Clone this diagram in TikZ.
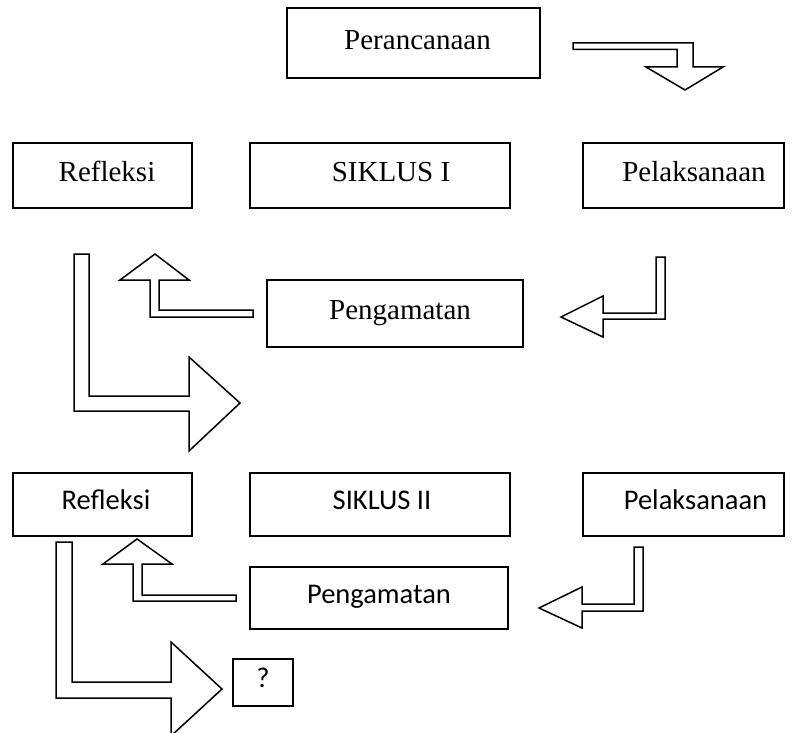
\documentclass[tikz,border=0pt]{standalone}
\usepackage{fontspec}
\setmainfont{Liberation Serif}
\newfontfamily\calfont{Carlito}
\begin{document}
\begin{tikzpicture}[x=1pt,y=-1pt,
  box/.style={draw=black,line width=1.5pt,inner sep=0pt,align=center},
  serifbox/.style={box,font=\fontsize{29}{32}\selectfont,text height=20.3pt,text depth=7.8pt},
  sansbox/.style={box,font=\calfont\fontsize{28.5}{32}\selectfont,text height=20pt,text depth=9.1pt},
  blockarrow/.style={draw=black,line width=1.5pt,line join=miter,fill=white}]
\useasboundingbox (0,0) rectangle (793,733);
% cycle I
\node[serifbox,minimum width=253pt,minimum height=70pt] (per) at (413.5,43) {\hspace*{8pt}Perancanaan};
\node[serifbox,minimum width=179pt,minimum height=65pt] (ref1) at (102.5,175.5) {\hspace*{9pt}Refleksi};
\node[serifbox,minimum width=260pt,minimum height=65pt] (sik1) at (380,175.5) {\hspace*{22pt}SIKLUS I};
\node[serifbox,minimum width=201pt,minimum height=65pt] (pel1) at (683.5,175.5) {\hspace*{21pt}Pelaksanaan};
\node[serifbox,minimum width=256pt,minimum height=67pt] (pen1) at (395,313.5) {\hspace*{10pt}Pengamatan};
% cycle II
\node[sansbox,minimum width=179pt,minimum height=63pt] (ref2) at (102.5,504.5) {\hspace*{7pt}Refleksi};
\node[sansbox,minimum width=260pt,minimum height=63pt] (sik2) at (380,504.5) {\hspace*{4pt}SIKLUS II};
\node[sansbox,minimum width=201pt,minimum height=63pt] (pel2) at (683.5,504.5) {\hspace*{24pt}Pelaksanaan};
\node[sansbox,minimum width=258pt,minimum height=62pt] (pen2) at (379,598) {Pengamatan};
\node[sansbox,minimum width=60pt,minimum height=47pt] (q) at (263,682.5) {?};
% block arrows, cycle I
\draw[blockarrow] (573,43) -- (693,43) -- (693,67) -- (723,67) -- (685,90) -- (646,67) -- (677,67) -- (677,49.5) -- (573,49.5) -- cycle;
\draw[blockarrow] (665,257) -- (665,319) -- (603,319) -- (603,337) -- (561,317) -- (603,296) -- (603,313) -- (656,313) -- (656,257) -- cycle;
\draw[blockarrow] (155,254) -- (189,280) -- (159,280) -- (159,310) -- (253,310) -- (253,317) -- (150,317) -- (150,280) -- (120,280) -- cycle;
\draw[blockarrow] (74,254) -- (89,254) -- (89,396) -- (189,396) -- (189,357) -- (240,403) -- (189,451) -- (189,411) -- (74,411) -- cycle;
% block arrows, cycle II
\draw[blockarrow] (643,547) -- (643,611) -- (582,611) -- (582,628) -- (539,608) -- (582,587) -- (582,604) -- (634,604) -- (634,547) -- cycle;
\draw[blockarrow] (137,539) -- (172,564) -- (142,564) -- (142,595) -- (236,595) -- (236,601) -- (133,601) -- (133,564) -- (103,564) -- cycle;
\draw[blockarrow] (56,542) -- (72,542) -- (72,682) -- (171,682) -- (171,642) -- (222,689) -- (171,736) -- (171,698) -- (56,698) -- cycle;
\end{tikzpicture}
\end{document}
